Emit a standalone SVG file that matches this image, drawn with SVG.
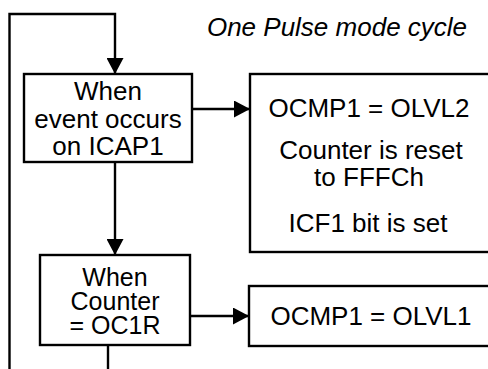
<svg xmlns="http://www.w3.org/2000/svg" width="488" height="369" viewBox="0 0 488 369">
<style>
.box{fill:#fff;stroke:#000;stroke-width:2.4}
.ln{fill:none;stroke:#000;stroke-width:2.4}
.t{font-family:"Liberation Sans",Arial,sans-serif;font-size:26px;fill:#000;text-anchor:middle}
.s{font-size:25px}
.ti{font-family:"Liberation Sans",Arial,sans-serif;font-size:26px;font-style:italic;fill:#000;text-anchor:middle}
</style>
<defs>
<marker id="ah" markerWidth="16" markerHeight="17" viewBox="0 0 16 17" refX="16" refY="8.5" orient="auto" markerUnits="userSpaceOnUse">
<path d="M0,0 L16,8.5 L0,17 Z" fill="#000"/>
</marker>
</defs>
<rect width="488" height="369" fill="#fff"/>
<text class="ti" x="337" y="36">One Pulse mode cycle</text>
<g id="connectors">
<path class="ln" d="M9.5,369 V14 H115 V74" marker-end="url(#ah)"/>
<path class="ln" d="M192,109 H250" marker-end="url(#ah)"/>
<path class="ln" d="M115,162 V255" marker-end="url(#ah)"/>
<path class="ln" d="M190,316 H249" marker-end="url(#ah)"/>
<path class="ln" d="M108,345 V369"/>
</g>
<g id="event">
<rect class="box" x="24" y="74" width="168" height="88"/>
<text class="t" x="108" y="100">When</text>
<text class="t" x="108" y="128">event occurs</text>
<text class="t" x="108" y="155">on ICAP1</text>
</g>
<g id="reset">
<rect class="box" x="250" y="74" width="250" height="178"/>
<text class="t" x="369" y="117">OCMP1 = OLVL2</text>
<text class="t" x="371" y="159">Counter is reset</text>
<text class="t" x="369" y="186">to FFFCh</text>
<text class="t" x="368" y="232">ICF1 bit is set</text>
</g>
<g id="compare">
<rect class="box" x="40" y="255" width="150" height="90"/>
<text class="t s" x="115" y="286">When</text>
<text class="t s" x="115" y="310">Counter</text>
<text class="t s" x="115" y="334">= OC1R</text>
</g>
<g id="olvl1">
<rect class="box" x="249" y="286" width="250" height="60"/>
<text class="t" x="371" y="325">OCMP1 = OLVL1</text>
</g>
</svg>
